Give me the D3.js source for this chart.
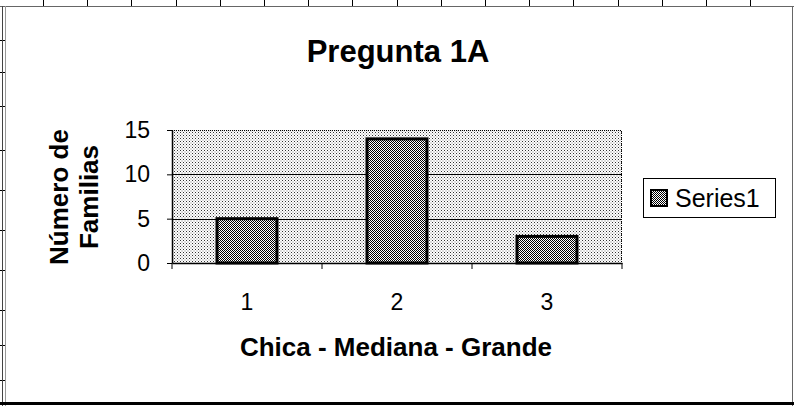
<!DOCTYPE html>
<html>
<head>
<meta charset="utf-8">
<script src="https://cdn.jsdelivr.net/npm/d3@7"></script>
<style>
  html, body { margin: 0; padding: 0; background: #fff; }
  svg { display: block; }
  text { font-family: "Liberation Sans", Arial, sans-serif; fill: #000; }
</style>
</head>
<body>
<svg id="chart" width="794" height="406"></svg>
<script>
const categories = ["1", "2", "3"];
const values = [5, 14, 3];
const yTicks = [0, 5, 10, 15];
const seriesName = "Series1";
const chartTitle = "Pregunta 1A";
const xTitle = "Chica - Mediana - Grande";
const yTitleLines = ["Número de", "Familias"];

const W = 794, H = 406;
const plot = { left: 172, right: 622, top: 130, bottom: 263 };

const svg = d3.select("#chart");
const defs = svg.append("defs");

// light dotted background pattern
const pBg = defs.append("pattern").attr("id", "bgPat")
  .attr("patternUnits", "userSpaceOnUse").attr("width", 3).attr("height", 3);
pBg.append("rect").attr("width", 3).attr("height", 3).attr("fill", "#fff");
pBg.append("rect").attr("x", 0).attr("y", 0).attr("width", 1).attr("height", 1).attr("fill", "#333");
pBg.append("rect").attr("x", 1.5).attr("y", 1.5).attr("width", 1).attr("height", 1).attr("fill", "#777");

// dense bar pattern
const pBar = defs.append("pattern").attr("id", "barPat")
  .attr("patternUnits", "userSpaceOnUse").attr("width", 2).attr("height", 2);
pBar.append("rect").attr("width", 2).attr("height", 2).attr("fill", "#fff");
pBar.append("rect").attr("x", 0).attr("y", 0).attr("width", 1).attr("height", 1).attr("fill", "#000");
pBar.append("rect").attr("x", 1).attr("y", 1).attr("width", 1).attr("height", 1).attr("fill", "#000");

// spreadsheet frame / cell borders (background decoration)
const frame = svg.append("g").attr("shape-rendering", "crispEdges");
frame.append("rect").attr("x", 0).attr("y", 0).attr("width", W).attr("height", H).attr("fill", "#fff");
d3.range(43.5, W, 44.2).forEach(xx => {
  frame.append("line").attr("x1", xx).attr("x2", xx).attr("y1", 0).attr("y2", 6)
    .attr("stroke", "#000").attr("stroke-width", 1);
});
[40, 72, 106, 150, 190, 230, 270, 310, 345, 380].forEach(yy => {
  frame.append("line").attr("x1", 0).attr("x2", 5).attr("y1", yy).attr("y2", yy)
    .attr("stroke", "#000").attr("stroke-width", 1);
});
frame.append("line").attr("x1", 0).attr("x2", W).attr("y1", 6.5).attr("y2", 6.5).attr("stroke", "#666").attr("stroke-width", 1);
frame.append("line").attr("x1", 2.5).attr("x2", 2.5).attr("y1", 6).attr("y2", H).attr("stroke", "#444").attr("stroke-width", 1);
frame.append("line").attr("x1", 5.5).attr("x2", 5.5).attr("y1", 6).attr("y2", H).attr("stroke", "#999").attr("stroke-width", 1);
frame.append("line").attr("x1", 792.5).attr("x2", 792.5).attr("y1", 6).attr("y2", H).attr("stroke", "#666").attr("stroke-width", 1);
frame.append("line").attr("x1", 0).attr("x2", W).attr("y1", 403.5).attr("y2", 403.5).attr("stroke", "#000").attr("stroke-width", 3);

// scales
const x = d3.scaleBand().domain(categories).range([plot.left, plot.right])
  .paddingInner(0.6).paddingOuter(0.3);
const y = d3.scaleLinear().domain([0, 15]).range([plot.bottom, plot.top]);

// plot area
svg.append("rect").attr("x", plot.left).attr("y", plot.top)
  .attr("width", plot.right - plot.left).attr("height", plot.bottom - plot.top)
  .attr("fill", "url(#bgPat)").attr("shape-rendering", "crispEdges");
// dotted top/right edges
svg.append("path")
  .attr("d", `M${plot.left},${plot.top + 0.5}H${plot.right - 0.5}V${plot.bottom}`)
  .attr("fill", "none").attr("stroke", "#000").attr("stroke-width", 1)
  .attr("stroke-dasharray", "1,1").attr("shape-rendering", "crispEdges");

// gridlines
svg.append("g").selectAll("line")
  .data(yTicks.filter(t => t > 0 && t < 15))
  .join("line")
  .attr("x1", plot.left).attr("x2", plot.right)
  .attr("y1", d => Math.round(y(d)) + 0.5).attr("y2", d => Math.round(y(d)) + 0.5)
  .attr("stroke", "#000").attr("stroke-width", 1).attr("shape-rendering", "crispEdges");

// bars
svg.append("g").selectAll("rect")
  .data(values)
  .join("rect")
  .attr("x", (d, i) => x(categories[i]))
  .attr("y", d => y(d))
  .attr("width", x.bandwidth())
  .attr("height", d => y(0) - y(d))
  .attr("fill", "url(#barPat)")
  .attr("stroke", "#000").attr("stroke-width", 3);

// y axis
const yAxis = svg.append("g").attr("transform", `translate(${plot.left},0)`)
  .call(d3.axisLeft(y).tickValues(yTicks).tickSizeInner(5).tickSizeOuter(0).tickPadding(17));
yAxis.select(".domain").attr("stroke", "#000").attr("stroke-width", 1.5);
yAxis.selectAll(".tick line").attr("stroke", "#000");
yAxis.selectAll("text").attr("font-size", 23).attr("font-family", "Liberation Sans, Arial, sans-serif");

// x axis
const xAxis = svg.append("g").attr("transform", `translate(0,${plot.bottom})`)
  .call(d3.axisBottom(x).tickSizeInner(0).tickSizeOuter(0).tickPadding(31));
xAxis.select(".domain").attr("stroke", "#000").attr("stroke-width", 1.5);
xAxis.selectAll("text").attr("font-size", 23).attr("font-family", "Liberation Sans, Arial, sans-serif");
const gap = (x.step() - x.bandwidth()) / 2;
const boundaries = categories.map(c => x(c) - gap).concat([plot.right]);
xAxis.selectAll(".bnd").data(boundaries).join("line").attr("class", "bnd")
  .attr("x1", d => d).attr("x2", d => d).attr("y1", 0).attr("y2", 6)
  .attr("stroke", "#000").attr("stroke-width", 1);

// title
svg.append("text").attr("x", 398).attr("y", 62).attr("text-anchor", "middle")
  .attr("font-size", 31).attr("font-weight", "bold").text(chartTitle);

// x title
svg.append("text").attr("x", 396).attr("y", 356).attr("text-anchor", "middle")
  .attr("font-size", 26).attr("font-weight", "bold").text(xTitle);

// y title
const yt = svg.append("text").attr("transform", `translate(68,197) rotate(-90)`)
  .attr("text-anchor", "middle").attr("font-size", 26).attr("font-weight", "bold");
yt.append("tspan").attr("x", 0).attr("y", 0).text(yTitleLines[0]);
yt.append("tspan").attr("x", 0).attr("y", 30).text(yTitleLines[1]);

// legend
const lg = svg.append("g");
lg.append("rect").attr("x", 643.5).attr("y", 178.5).attr("width", 132).attr("height", 39)
  .attr("fill", "#fff").attr("stroke", "#000").attr("stroke-width", 1);
lg.append("rect").attr("x", 651).attr("y", 190).attr("width", 16).attr("height", 16)
  .attr("fill", "url(#barPat)").attr("stroke", "#000").attr("stroke-width", 2);
lg.append("text").attr("x", 675).attr("y", 207).attr("font-size", 25).text(seriesName);
</script>
</body>
</html>
